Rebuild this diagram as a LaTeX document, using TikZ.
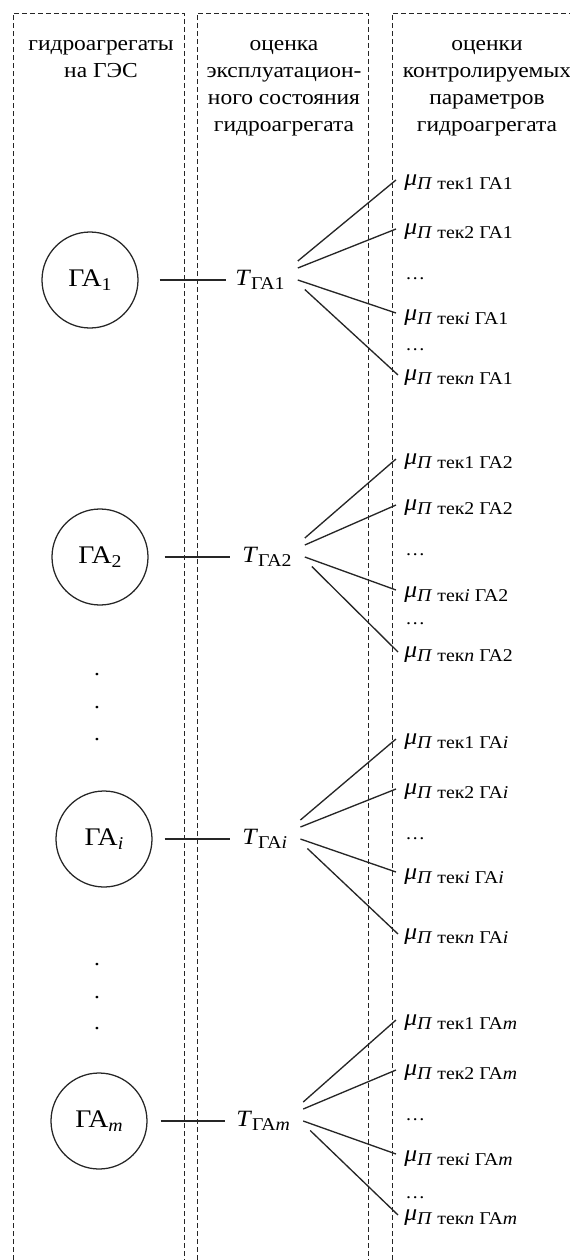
\documentclass[tikz,border=0pt]{standalone}
\usepackage{fontspec}
\setmainfont{Liberation Serif}[FakeStretch=1.1]
\newcommand{\lo}[1]{\raisebox{-2.6pt}{\fontsize{13.5}{14}\selectfont #1}}
\newcommand{\mulab}[2]{\textit{μ}\lo{\textit{П} тек#1 ГА#2}}
\newcommand{\drawfan}[5]{%
  \draw[conn] ([shift={(13,-19)}]#1.east) -- ([shift={(-8,-3)}]#2.west);
  \draw[conn] ([shift={(13,-12)}]#1.east) -- ([shift={(-8,-3)}]#3.west);
  \draw[conn] ([shift={(13,0)}]#1.east) -- ([shift={(-8,-5)}]#4.west);
  \draw[conn] ([shift={(20,9.5)}]#1.east) -- ([shift={(-6,-3)}]#5.west);
}
\begin{document}
\begin{tikzpicture}[x=0.75pt,y=-0.75pt,
  colbox/.style={draw=black!85,line width=0.75pt,dash pattern=on 3.6pt off 2.4pt},
  unit/.style={draw=black!85,circle,line width=0.95pt,minimum size=72pt,inner sep=0pt,font=\fontsize{19}{21}\selectfont},
  conn/.style={draw=black!85,line width=1pt},
  head/.style={anchor=north,align=center,inner sep=0pt,font=\fontsize{16}{20.25}\selectfont},
  tval/.style={anchor=west,inner sep=0pt,font=\fontsize{17.5}{20}\selectfont},
  mu/.style={anchor=west,inner sep=0pt,font=\fontsize{17.5}{20}\selectfont},
  ell/.style={anchor=base west,inner sep=0pt,font=\fontsize{13.5}{14}\selectfont},
  vdot/.style={anchor=base,inner sep=0pt,font=\fontsize{16}{20}\selectfont}]
\useasboundingbox (0,0) rectangle (570,1260);
% column boxes
\draw[colbox] (13,1260) -- (13,13) -- (184,13) -- (184,1260);
\draw[colbox] (197,1260) -- (197,13) -- (368,13) -- (368,1260);
\draw[colbox] (392,1260) -- (392,13) -- (570,13);
% headers
\node[head] (h1) at (101,34) {\rule{0pt}{12pt}гидроагрегаты\\на ГЭС};
\node[head] (h2) at (284,34) {\rule{0pt}{12pt}оценка\\эксплуатацион-\\ного состояния\\гидроагрегата};
\node[head] (h3) at (487,34) {\rule{0pt}{12pt}оценки\\контролируемых\\параметров\\гидроагрегата};
% group 1
\node[unit] (g1) at (90,280) {ГА\lo{1}};
\node[tval] (t1) at (235,280) {\textit{T}\lo{ГА1}};
\draw[conn,shorten <=15.75pt,shorten >=6.75pt] (g1.east) -- (t1.west |- g1.east);
\node[mu] (m1a) at (404,183) {\mulab{1}{1}};
\node[mu] (m1b) at (404,232) {\mulab{2}{1}};
\node[ell] (e1a) at (405,279) {…};
\node[mu] (m1c) at (404,318) {\mulab{\textit{i}}{1}};
\node[ell] (e1b) at (405,350) {…};
\node[mu] (m1d) at (404,378) {\mulab{\textit{n}}{1}};
\drawfan{t1}{m1a}{m1b}{m1c}{m1d}
% group 2
\node[unit] (g2) at (100,557) {ГА\lo{2}};
\node[tval] (t2) at (242,557) {\textit{T}\lo{ГА2}};
\draw[conn,shorten <=12pt,shorten >=9pt] (g2.east) -- (t2.west |- g2.east);
\node[mu] (m2a) at (404,462) {\mulab{1}{2}};
\node[mu] (m2b) at (404,508) {\mulab{2}{2}};
\node[ell] (e2a) at (405,555) {…};
\node[mu] (m2c) at (404,595) {\mulab{\textit{i}}{2}};
\node[ell] (e2b) at (405,624) {…};
\node[mu] (m2d) at (404,655) {\mulab{\textit{n}}{2}};
\drawfan{t2}{m2a}{m2b}{m2c}{m2d}
% dots
\node[vdot] (d1) at (97,675) {.};
\node[vdot] (d2) at (97,708) {.};
\node[vdot] (d3) at (97,740) {.};
% group i
\node[unit] (gi) at (104,839) {ГА\lo{\textit{i}}};
\node[tval] (ti) at (242,839) {\textit{T}\lo{ГА\textit{i}}};
\draw[conn,shorten <=9pt,shorten >=9pt] (gi.east) -- (ti.west |- gi.east);
\node[mu] (mia) at (404,742) {\mulab{1}{\textit{i}}};
\node[mu] (mib) at (404,792) {\mulab{2}{\textit{i}}};
\node[ell] (eia) at (405,839) {…};
\node[mu] (mic) at (404,877) {\mulab{\textit{i}}{\textit{i}}};
\node[mu] (mid) at (404,937) {\mulab{\textit{n}}{\textit{i}}};
\drawfan{ti}{mia}{mib}{mic}{mid}
% dots
\node[vdot] (d4) at (97,965) {.};
\node[vdot] (d5) at (97,998) {.};
\node[vdot] (d6) at (97,1029) {.};
% group m
\node[unit] (gm) at (99,1121) {ГА\lo{\textit{m}}};
\node[tval] (tm) at (236,1121) {\textit{T}\lo{ГА\textit{m}}};
\draw[conn,shorten <=9.75pt,shorten >=8.25pt] (gm.east) -- (tm.west |- gm.east);
\node[mu] (mma) at (404,1023) {\mulab{1}{\textit{m}}};
\node[mu] (mmb) at (404,1073) {\mulab{2}{\textit{m}}};
\node[ell] (ema) at (405,1120) {…};
\node[mu] (mmc) at (404,1159) {\mulab{\textit{i}}{\textit{m}}};
\node[ell] (emb) at (405,1198) {…};
\node[mu] (mmd) at (404,1218) {\mulab{\textit{n}}{\textit{m}}};
\drawfan{tm}{mma}{mmb}{mmc}{mmd}
\end{tikzpicture}
\end{document}
